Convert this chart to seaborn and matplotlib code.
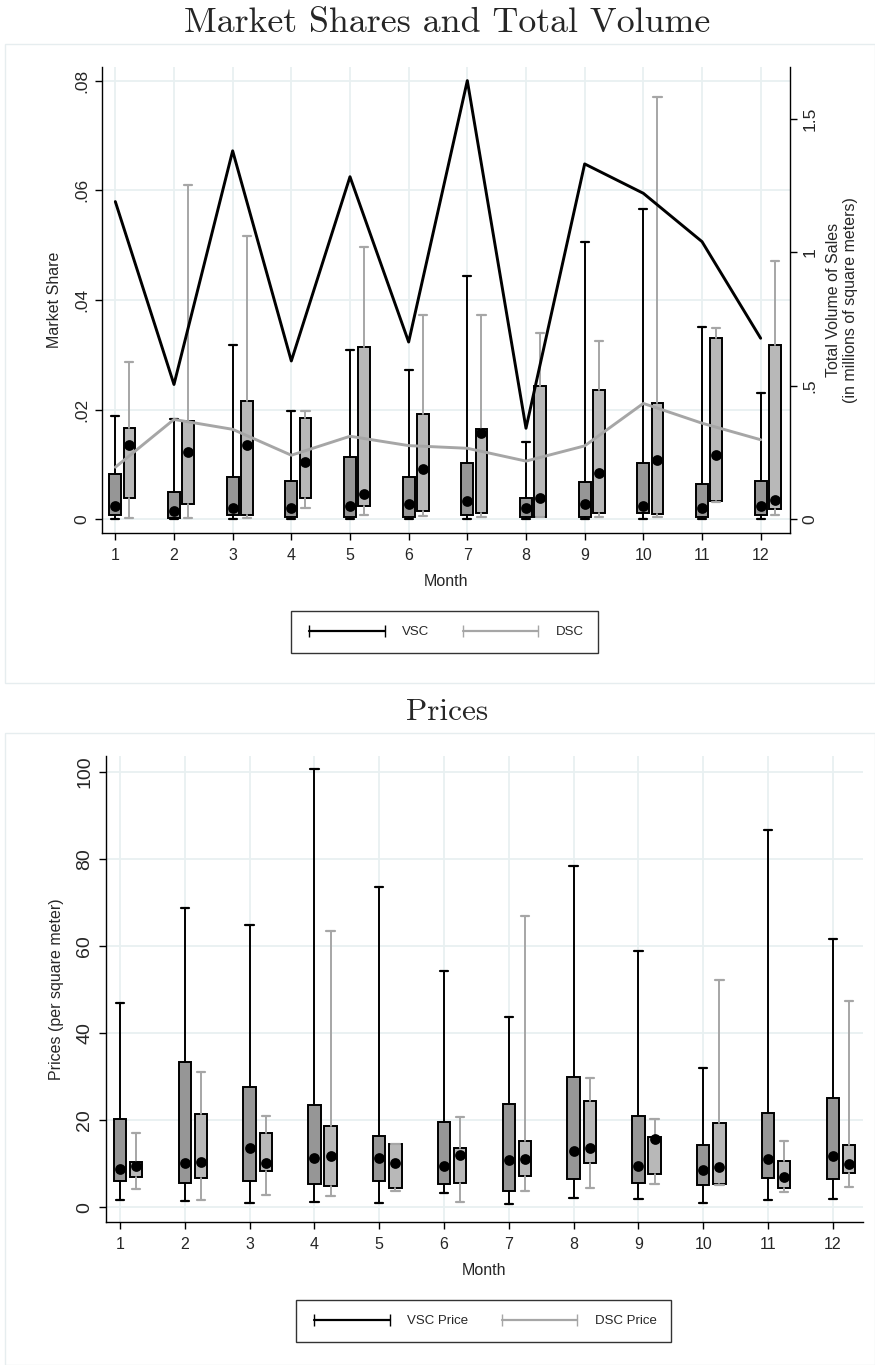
import matplotlib
matplotlib.use("Agg")
import matplotlib.pyplot as plt
from matplotlib.lines import Line2D
from matplotlib.patches import Rectangle
import seaborn as sns

# =========================
# DATA
# =========================
months = list(range(1, 13))

# market share of VSC firms by month (box summary)
vsc_share_lo = [0.0001] * 12
vsc_share_q1 = [0.0008, 0.0002, 0.0008, 0.0005, 0.0005, 0.0005, 0.0008, 0.0005, 0.0005, 0.0011, 0.0005, 0.0008]
vsc_share_med = [0.0025, 0.0015, 0.0020, 0.0020, 0.0025, 0.0027, 0.0033, 0.0020, 0.0027, 0.0025, 0.0020, 0.0025]
vsc_share_q3 = [0.0083, 0.0049, 0.0078, 0.0069, 0.0113, 0.0078, 0.0103, 0.0039, 0.0068, 0.0103, 0.0064, 0.0070]
vsc_share_hi = [0.0189, 0.0183, 0.0318, 0.0198, 0.0309, 0.0272, 0.0443, 0.0141, 0.0505, 0.0566, 0.0351, 0.0230]

# market share of DSC firms
dsc_share_lo = [0.0002, 0.0002, 0.0003, 0.0020, 0.0007, 0.0006, 0.0004, 0.0004, 0.0004, 0.0004, 0.0032, 0.0008]
dsc_share_q1 = [0.0039, 0.0028, 0.0008, 0.0039, 0.0024, 0.0016, 0.0011, 0.0005, 0.0011, 0.0009, 0.0034, 0.0018]
dsc_share_med = [0.0135, 0.0122, 0.0136, 0.0104, 0.0046, 0.0091, 0.0157, 0.0038, 0.0084, 0.0109, 0.0117, 0.0035]
dsc_share_q3 = [0.0167, 0.0180, 0.0215, 0.0184, 0.0315, 0.0192, 0.0165, 0.0243, 0.0235, 0.0213, 0.0330, 0.0318]
dsc_share_hi = [0.0287, 0.0609, 0.0516, 0.0198, 0.0497, 0.0372, 0.0372, 0.0339, 0.0326, 0.0770, 0.0349, 0.0471]

# total volume of sales (millions of m2)
vsc_volume = [1.19, 0.505, 1.38, 0.593, 1.283, 0.664, 1.643, 0.341, 1.331, 1.221, 1.04, 0.678]
dsc_volume = [0.195, 0.374, 0.337, 0.24, 0.311, 0.276, 0.266, 0.218, 0.275, 0.434, 0.36, 0.298]

# prices per square meter
vsc_price_lo = [1.6, 1.4, 0.9, 1.3, 0.9, 3.2, 0.8, 2.1, 1.9, 1.1, 1.6, 1.9]
vsc_price_q1 = [6.1, 5.7, 6.1, 5.4, 6.1, 5.4, 3.8, 6.4, 5.5, 5.1, 6.7, 6.4]
vsc_price_med = [8.9, 10.1, 13.6, 11.4, 11.4, 9.5, 10.8, 13.0, 9.5, 8.6, 11.2, 11.7]
vsc_price_q3 = [20.2, 33.4, 27.7, 23.4, 16.4, 19.6, 23.8, 29.9, 20.9, 14.3, 21.6, 25.1]
vsc_price_hi = [46.9, 68.8, 64.9, 100.6, 73.5, 54.4, 43.8, 78.4, 58.9, 32.0, 86.7, 61.7]

dsc_price_lo = [4.1, 1.6, 2.9, 2.6, 3.7, 1.3, 3.8, 4.4, 5.4, 5.1, 3.6, 4.6]
dsc_price_q1 = [7.0, 6.7, 8.3, 4.8, 4.5, 5.7, 7.1, 10.3, 7.7, 5.4, 4.4, 8.0]
dsc_price_med = [9.5, 10.5, 10.1, 11.7, 10.1, 12.1, 11.2, 13.7, 15.6, 9.2, 6.9, 9.9]
dsc_price_q3 = [10.4, 21.5, 17.0, 18.7, 14.6, 13.6, 15.2, 24.5, 16.2, 19.3, 10.6, 14.3]
dsc_price_hi = [17.1, 31.1, 21.1, 63.6, 14.6, 20.7, 66.9, 29.7, 20.3, 52.3, 15.3, 47.4]

share_ticks = [0, 0.02, 0.04, 0.06, 0.08]
share_labels = ["0", ".02", ".04", ".06", ".08"]
volume_ticks = [0, 0.5, 1, 1.5]
volume_labels = ["0", ".5", "1", "1.5"]
price_ticks = [0, 20, 40, 60, 80, 100]

# =========================
# STYLE
# =========================
sns.set_theme(style="white")
plt.rcParams["font.family"] = ["Liberation Sans", "DejaVu Sans"]

DARK = "#969696"
LIGHT = "#b8b8b8"
GRAY_LINE = "#a6a6a6"
GRID = "#e8f0f1"


def draw_boxes(ax, pos, lo, q1, med, q3, hi, face, wcolor, width, capw):
    stats = [dict(whislo=a, q1=b, med=c, q3=d, whishi=e, fliers=[])
             for a, b, c, d, e in zip(lo, q1, med, q3, hi)]
    ax.bxp(stats, positions=pos, widths=width, capwidths=capw,
           patch_artist=True, showfliers=False, manage_ticks=False,
           boxprops=dict(facecolor=face, edgecolor="black", linewidth=1.4),
           whiskerprops=dict(color=wcolor, linewidth=1.4),
           capprops=dict(color=wcolor, linewidth=1.6),
           medianprops=dict(visible=False))
    sns.scatterplot(x=pos, y=med, color="black", s=60, linewidth=0,
                    zorder=6, ax=ax, legend=False)


def style_axis(ax, ysize):
    ax.grid(True, color=GRID, linewidth=1.3)
    ax.set_axisbelow(True)
    ax.tick_params(direction="out", length=5, width=1, color="black",
                   left=True, bottom=True)
    ax.tick_params(axis="x", labelsize=11.5, pad=6)
    ax.tick_params(axis="y", labelsize=ysize, pad=4)
    for lab in ax.get_yticklabels():
        lab.set_rotation(90)
        lab.set_va("center")
    for s in ["left", "bottom"]:
        ax.spines[s].set_color("black")
        ax.spines[s].set_linewidth(1)
    ax.spines["top"].set_visible(False)
    ax.spines["right"].set_visible(False)


fig = plt.figure(figsize=(8.75, 13.65), dpi=100)

# panel frames
fig.patches.append(Rectangle((5 / 875, 1 - 683 / 1365), 870 / 875, 639 / 1365,
                             transform=fig.transFigure, fill=False,
                             edgecolor="#e6edef", linewidth=1))
fig.patches.append(Rectangle((5 / 875, 0), 870 / 875, 1 - 733 / 1365,
                             transform=fig.transFigure, fill=False,
                             edgecolor="#e6edef", linewidth=1))

fig.text(447 / 875, 1 - 23 / 1365, "Market Shares and Total Volume", family="cmr10",
         fontsize=25.8, ha="center", va="center")
fig.text(447.5 / 875, 1 - 712 / 1365, "Prices", family="cmr10",
         fontsize=22.5, ha="center", va="center")

# =========================
# TOP PANEL
# =========================
ax = fig.add_axes([101.7 / 875, 1 - 533 / 1365, 688.3 / 875, 466 / 1365])
pos_v = [m for m in months]
pos_d = [m + 0.24 for m in months]
draw_boxes(ax, pos_v, vsc_share_lo, vsc_share_q1, vsc_share_med, vsc_share_q3,
           vsc_share_hi, DARK, "black", 0.2, 0.14)
draw_boxes(ax, pos_d, dsc_share_lo, dsc_share_q1, dsc_share_med, dsc_share_q3,
           dsc_share_hi, LIGHT, GRAY_LINE, 0.2, 0.14)
ax.set_xlim(0.768, 12.5)
ax.set_ylim(-0.0025, 0.0825)
ax.set_xticks(months)
ax.set_yticks(share_ticks, share_labels)
ax.set_xlabel("Month", fontsize=11.5, labelpad=8)
ax.set_ylabel("Market Share", fontsize=11.5, labelpad=9)
style_axis(ax, 12.5)

ax2 = ax.twinx()
sns.lineplot(x=months, y=vsc_volume, color="black", linewidth=2.1, ax=ax2, legend=False)
sns.lineplot(x=months, y=dsc_volume, color=GRAY_LINE, linewidth=2.1, ax=ax2, legend=False)
ax2.set_ylim(-0.0513, 1.694)
ax2.set_yticks(volume_ticks, volume_labels)
ax2.grid(False)
ax2.tick_params(direction="out", length=5, width=1, color="black",
                labelsize=12.5, right=True, pad=4)
for lab in ax2.get_yticklabels():
    lab.set_rotation(90)
    lab.set_va("center")
ax2.spines["right"].set_color("black")
ax2.spines["right"].set_linewidth(1)
for s in ["top", "left", "bottom"]:
    ax2.spines[s].set_visible(False)
ax2.set_ylabel("Total Volume of Sales\n(in millions of square meters)",
               fontsize=11.5, labelpad=6)

h1 = [Line2D([], [], color="black", linewidth=1.6, marker="|", markersize=8),
      Line2D([], [], color=GRAY_LINE, linewidth=1.6, marker="|", markersize=8)]
fig.legend(h1, ["VSC", "DSC"], loc="center", bbox_to_anchor=(444.5 / 875, 1 - 632 / 1365),
           ncol=2, numpoints=2, handlelength=6.3, handletextpad=1.0, columnspacing=2.3,
           fontsize=9.5, frameon=True, fancybox=False, edgecolor="black",
           borderpad=1.1)

# =========================
# BOTTOM PANEL
# =========================
bx = fig.add_axes([106 / 875, 1 - 1221.7 / 1365, 756.7 / 875, 465.7 / 1365])
pos_v = [m for m in months]
pos_d = [m + 0.25 for m in months]
draw_boxes(bx, pos_v, vsc_price_lo, vsc_price_q1, vsc_price_med, vsc_price_q3,
           vsc_price_hi, DARK, "black", 0.19, 0.13)
draw_boxes(bx, pos_d, dsc_price_lo, dsc_price_q1, dsc_price_med, dsc_price_q3,
           dsc_price_hi, LIGHT, GRAY_LINE, 0.19, 0.13)
bx.set_xlim(0.785, 12.46)
bx.set_ylim(-3.3, 103.7)
bx.set_xticks(months)
bx.set_yticks(price_ticks)
bx.set_xlabel("Month", fontsize=11.5, labelpad=8)
bx.set_ylabel("Prices (per square meter)", fontsize=11.5, labelpad=9)
style_axis(bx, 14)

h2 = [Line2D([], [], color="black", linewidth=1.6, marker="|", markersize=8),
      Line2D([], [], color=GRAY_LINE, linewidth=1.6, marker="|", markersize=8)]
fig.legend(h2, ["VSC Price", "DSC Price"], loc="center",
           bbox_to_anchor=(483.5 / 875, 1 - 1321 / 1365),
           ncol=2, numpoints=2, handlelength=6.3, handletextpad=1.0, columnspacing=2.3,
           fontsize=9.5, frameon=True, fancybox=False, edgecolor="black",
           borderpad=1.1)

fig.savefig("out.png", dpi=100)
